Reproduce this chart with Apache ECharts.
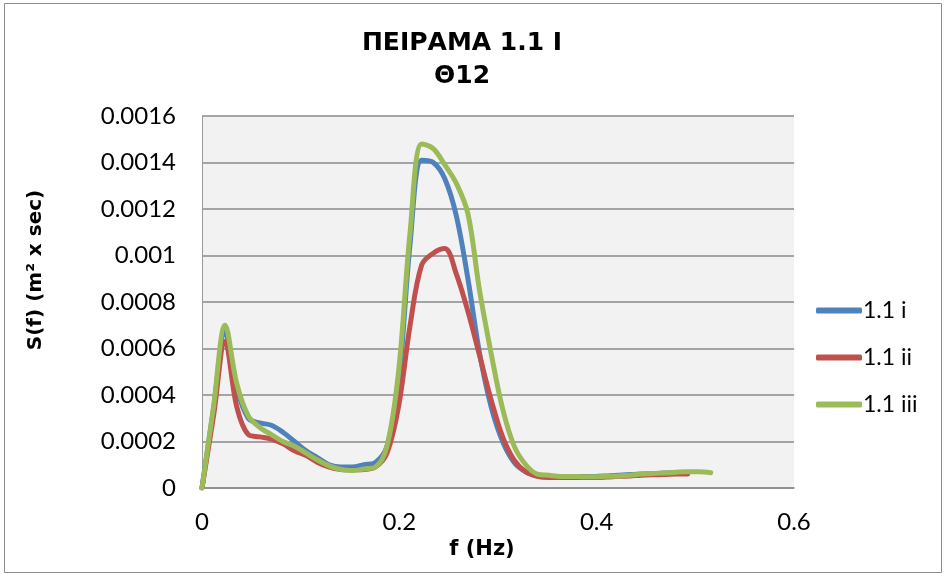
<!DOCTYPE html>
<html>
<head>
<meta charset="utf-8">
<script src="https://cdn.jsdelivr.net/npm/echarts@6/dist/echarts.min.js"></script>
<style>
  html, body { margin: 0; padding: 0; background: #ffffff; }
  #chart { width: 947px; height: 574px; }
</style>
</head>
<body>
<div id="chart"></div>
<script>
// Frequency bins (Hz)
const freq = [0, 0.0117, 0.0234, 0.0352, 0.0469, 0.0586, 0.0703, 0.0820, 0.0938, 0.1055,
  0.1172, 0.1289, 0.1406, 0.1523, 0.1641, 0.1758, 0.1875, 0.1992, 0.2109, 0.2227,
  0.2344, 0.2461, 0.2578, 0.2695, 0.2813, 0.2930, 0.3047, 0.3164, 0.3281, 0.3398,
  0.3516, 0.3633, 0.3750, 0.3867, 0.3984, 0.4102, 0.4219, 0.4336, 0.4453, 0.4570,
  0.4688, 0.4805, 0.4922, 0.5039, 0.5156];

// Spectral density S(f) per run
const run_i = [0, 0.00034, 0.00067, 0.00043, 0.00030, 0.00028, 0.00027, 0.00024, 0.00020, 0.00016,
  0.00013, 0.00010, 0.00009, 0.00009, 0.00010, 0.00011, 0.00018, 0.00045, 0.00105, 0.00141,
  0.00140, 0.00133, 0.00117, 0.00090, 0.00058, 0.00035, 0.00020, 0.00011, 0.00007, 0.000055,
  0.00005, 0.00005, 0.00005, 0.00005, 0.00005, 0.000052, 0.000055, 0.000058, 0.00006, 0.000062,
  0.000064, 0.000065, 0.000065];
const run_ii = [0, 0.00031, 0.00063, 0.00035, 0.00023, 0.00022, 0.00021, 0.00019, 0.00016, 0.00014,
  0.00011, 0.00009, 0.00008, 0.000078, 0.00008, 0.00009, 0.00015, 0.00035, 0.00070, 0.00096,
  0.00101, 0.00103, 0.00092, 0.00076, 0.00057, 0.00038, 0.00022, 0.00012, 0.00007, 0.00005,
  0.000045, 0.000045, 0.000045, 0.000045, 0.000045, 0.000047, 0.00005, 0.000052, 0.000055, 0.000057,
  0.000058, 0.00006, 0.00006];
const run_iii = [0, 0.00035, 0.00070, 0.00045, 0.00031, 0.00026, 0.00023, 0.00020, 0.00018, 0.00015,
  0.00012, 0.000095, 0.00008, 0.000075, 0.000082, 0.00009, 0.00018, 0.00050, 0.00110, 0.00148,
  0.00146, 0.00139, 0.00131, 0.00118, 0.00085, 0.00058, 0.00034, 0.00018, 0.00010, 0.00006,
  0.000055, 0.00005, 0.00005, 0.000048, 0.000048, 0.00005, 0.000052, 0.000055, 0.00006, 0.000062,
  0.000065, 0.000068, 0.00007, 0.00007, 0.000066];

const seriesNames = ['1.1 i', '1.1 ii', '1.1 iii'];
const seriesColors = ['#4F81BD', '#C0504D', '#9BBB59'];
const seriesValues = [run_i, run_ii, run_iii];

const pairs = vals => vals.map((v, i) => [freq[i], v]);
const fmt = v => (v === 0 ? '0' : String(+v.toFixed(4)));

const chart = echarts.init(document.getElementById('chart'), null, { renderer: 'canvas' });
const labelFont = 'Lato, "Open Sans", sans-serif';
const boldFont = '"DejaVu Sans", Verdana, sans-serif';

chart.setOption({
  animation: false,
  backgroundColor: '#ffffff',
  title: {
    text: 'ΠΕΙΡΑΜΑ 1.1 Ι\nΘ12',
    left: 462, top: 27, padding: 0, textAlign: 'center',
    textStyle: { fontFamily: boldFont, fontWeight: 'bold',
      fontSize: 25, lineHeight: 33, color: '#000' }
  },
  legend: {
    orient: 'vertical', left: 811, top: 294, itemGap: 24,
    itemWidth: 46, itemHeight: 6, icon: 'roundRect',
    data: seriesNames,
    textStyle: { fontFamily: labelFont, fontSize: 23, color: '#000', padding: [0, 0, 0, -4] }
  },
  grid: { left: 202, top: 116, right: 153, bottom: 86, show: true,
    backgroundColor: '#f2f2f2', borderWidth: 0 },
  xAxis: {
    type: 'value', min: 0, max: 0.6, interval: 0.2,
    name: 'f (Hz)', nameLocation: 'middle', nameGap: 46,
    nameTextStyle: { fontFamily: boldFont, fontWeight: 'bold', fontSize: 21, color: '#000',
      padding: [0, 32, 0, 0] },
    axisLine: { show: true, lineStyle: { color: '#8a8a8a', width: 1.5 } },
    axisTick: { show: false },
    splitLine: { show: false },
    axisLabel: { formatter: fmt, margin: 22, fontFamily: labelFont, fontSize: 24, color: '#000' }
  },
  yAxis: {
    type: 'value', min: 0, max: 0.0016, interval: 0.0002,
    name: 'S(f) (m² x sec)', nameLocation: 'middle', nameGap: 156, nameRotate: 90,
    nameTextStyle: { fontFamily: boldFont, fontWeight: 'bold', fontSize: 20, color: '#000',
      padding: [0, 0, 0, 64] },
    axisLine: { show: true, lineStyle: { color: '#9a9a9a', width: 1 } },
    axisTick: { show: false },
    splitLine: { show: true, lineStyle: { color: '#8a8a8a', width: 1.5 } },
    axisLabel: { formatter: fmt, margin: 26, fontFamily: labelFont, fontSize: 24, color: '#000' }
  },
  graphic: [{
    type: 'rect', silent: true, z: -10,
    shape: { x: 4.5, y: 3.5, width: 937, height: 569 },
    style: { fill: null, stroke: '#8c8c8c', lineWidth: 1 }
  }],
  series: seriesValues.map((vals, k) => ({
    name: seriesNames[k], type: 'line', smooth: 0.35,
    showSymbol: false, symbol: 'none',
    data: pairs(vals),
    lineStyle: { color: seriesColors[k], width: 5, cap: 'round', join: 'round' },
    itemStyle: { color: seriesColors[k] }
  }))
});
</script>
</body>
</html>
